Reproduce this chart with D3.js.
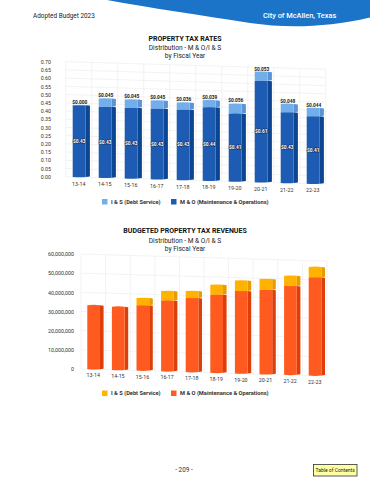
<!DOCTYPE html>
<html>
<head>
<meta charset="utf-8">
<script src="https://cdn.jsdelivr.net/npm/d3@7"></script>
<style>
  html, body { margin: 0; padding: 0; background: #fff; }
  svg { display: block; }
  text { font-family: Roboto, sans-serif; }
</style>
</head>
<body>
<div id="drawing"></div>
<script>
 var width = 370;
 var height = 480;

 // your data
 var years = ["13-14", "14-15", "15-16", "16-17", "17-18", "18-19", "19-20", "20-21", "21-22", "22-23"];

 var rateMO = [0.436, 0.431, 0.430, 0.430, 0.428, 0.447, 0.414, 0.617, 0.430, 0.410];
 var rateIS = [0.002, 0.051, 0.050, 0.048, 0.043, 0.043, 0.059, 0.055, 0.051, 0.050];
 var rateMOLabels = ["$0.43", "$0.43", "$0.43", "$0.43", "$0.43", "$0.44", "$0.41", "$0.61", "$0.43", "$0.41"];
 var rateISLabels = ["$0.000", "$0.045", "$0.045", "$0.045", "$0.036", "$0.039", "$0.056", "$0.053", "$0.048", "$0.044"];
 var rateTicks = [0, 0.05, 0.10, 0.15, 0.20, 0.25, 0.30, 0.35, 0.40, 0.45, 0.50, 0.55, 0.60, 0.65, 0.70];

 var revMO = [33400000, 33000000, 34100000, 37000000, 38600000, 40800000, 43000000, 44000000, 46300000, 51300000];
 var revIS = [0, 0, 3800000, 4900000, 3700000, 5100000, 5500000, 5600000, 5400000, 5400000];
 var revTicks = [0, 10000000, 20000000, 30000000, 40000000, 50000000, 60000000];

 var legendIS = "I & S (Debt Service)";
 var legendMO = "M & O (Maintenance & Operations)";

 var drawing = d3.select("#drawing").append("svg")
   .attr("width", width)
   .attr("height", height)
   .style("background", "#fff");

 // header swoosh
 drawing.append("path")
   .attr("d", "M107,0 C150,8 200,15 250,23 C285,28 325,28 370,17.5 L370,0 Z")
   .style("fill", "#1b74c8");

 function addText(x, y, str, size, weight, color, anchor) {
   return drawing.append("text")
     .attr("x", x)
     .attr("y", y)
     .attr("text-anchor", anchor || "middle")
     .style("font-size", size + "px")
     .style("font-weight", weight)
     .style("fill", color)
     .text(str);
 }

 addText(33, 17.5, "Adopted Budget 2023", 6.4, 400, "#222", "start");
 addText(263, 17.5, "City of McAllen, Texas", 7.4, 500, "#fff", "start");

 function makeChart(c) {
   var g = drawing.append("g");
   var skew = 7.5 / 260; // the whole plot leans down to the right

   var xScale = d3.scaleBand().domain(years).range([c.left, c.right]);
   var yScale = d3.scaleLinear().domain([0, c.max]).range([c.bottom, c.top]);
   var lean = (x) => (x - c.left) * skew;

   // grid
   var plotRight = c.right;
   g.selectAll(".hGrid")
     .data(c.ticks)
     .enter()
     .append("line")
     .attr("x1", c.left)
     .attr("x2", plotRight)
     .attr("y1", (d) => yScale(d))
     .attr("y2", (d) => yScale(d) + lean(plotRight))
     .style("stroke", "#eeeeee")
     .style("stroke-width", 0.7);

   var edges = years.map((d) => xScale(d)).concat([c.right]);
   g.selectAll(".vGrid")
     .data(edges)
     .enter()
     .append("line")
     .attr("x1", (d) => d)
     .attr("x2", (d) => d)
     .attr("y1", (d) => yScale(c.max) + lean(d))
     .attr("y2", (d) => yScale(0) + lean(d))
     .style("stroke", "#eeeeee")
     .style("stroke-width", 0.7);

   // y axis
   var yAxis = g.append("g")
     .attr("transform", `translate(${c.axisX}, 0)`)
     .call(d3.axisLeft(yScale).tickValues(c.ticks).tickSize(0).tickPadding(0).tickFormat(c.format));
   yAxis.select(".domain").remove();
   yAxis.selectAll("text")
     .style("font-family", "Roboto, sans-serif")
     .style("font-size", "5.3px")
     .style("fill", "#333");

   // x axis, every tick follows the lean
   var xAxis = g.append("g")
     .call(d3.axisBottom(xScale).tickSize(0).tickPadding(0));
   xAxis.select(".domain").remove();
   xAxis.selectAll(".tick")
     .attr("transform", (d) => {
       var cx = xScale(d) + xScale.bandwidth() / 2;
       return `translate(${cx}, ${c.bottom + lean(cx) + c.labelGap})`;
     });
   xAxis.selectAll("text")
     .attr("y", 0)
     .attr("dy", 0)
     .style("font-family", "Roboto, sans-serif")
     .style("font-size", "5.3px")
     .style("fill", "#333");

   // bars
   function drawSegment(i, from, to, front, side) {
     var x0 = xScale(years[i]) + c.barOffset;
     var x1 = x0 + c.barWidth;
     var x2 = x1 + c.barSide;
     var base = lean(x0);
     var yB = yScale(from) + base;
     var yT = yScale(to) + base;
     if (to <= from) return;
     g.append("path")
       .attr("d", `M${x1},${yT} L${x2},${yT + 0.5} L${x2},${yB - 0.5} L${x1},${yB} Z`)
       .style("fill", side);
     g.append("path")
       .attr("d", `M${x0},${yT} Q${(x0 + x1) / 2},${yT - 0.6} ${x1},${yT} L${x1},${yB} Q${(x0 + x1) / 2},${yB + (from === 0 ? 0.8 : 0.3)} ${x0},${yB} Z`)
       .style("fill", front);
   }

   years.forEach((d, i) => {
     drawSegment(i, 0, c.lower[i], c.colors.lower, c.colors.lowerSide);
     drawSegment(i, c.lower[i], c.lower[i] + c.upper[i], c.colors.upper, c.colors.upperSide);
   });

   // value labels
   if (c.upperLabels) {
     years.forEach((d, i) => {
       var x0 = xScale(d) + c.barOffset;
       var cx = x0 + (c.barWidth + c.barSide) / 2 - 1.5;
       var yTop = yScale(c.lower[i] + c.upper[i]) + lean(x0);
       g.append("text")
         .attr("x", cx)
         .attr("y", yTop - 1.2)
         .attr("text-anchor", "middle")
         .style("font-size", "4.8px")
         .style("font-weight", 700)
         .style("fill", "#222")
         .text(c.upperLabels[i]);
       g.append("text")
         .attr("x", x0 + c.barWidth / 2)
         .attr("y", yScale(c.lower[i] / 2) + lean(x0) + 1.7)
         .attr("text-anchor", "middle")
         .style("font-size", "4.8px")
         .style("font-weight", 700)
         .style("fill", "#fff")
         .style("paint-order", "stroke")
         .style("stroke", "#0b2a5c")
         .style("stroke-width", 1)
         .text(c.lowerLabels[i]);
     });
   }

   // titles
   addText(185, c.titleY, c.title, 7, 700, "#111");
   addText(185, c.titleY + 9.5, "Distribution - M & O/I & S", 6.6, 400, "#222");
   addText(185, c.titleY + 17.5, "by Fiscal Year", 6.6, 400, "#222");

   // legend
   var ly = c.legendY;
   drawing.append("rect").attr("x", 102).attr("y", ly - 4.5).attr("width", 5.5).attr("height", 5.5).style("fill", c.colors.upper);
   addText(111, ly, legendIS, 5.7, 700, "#333", "start");
   drawing.append("rect").attr("x", 171).attr("y", ly - 4.5).attr("width", 5.5).attr("height", 5.5).style("fill", c.colors.lower);
   addText(180, ly, legendMO, 5.7, 700, "#333", "start");
 }

 makeChart({
   title: "PROPERTY TAX RATES",
   titleY: 40.5,
   max: 0.70,
   ticks: rateTicks,
   format: d3.format(".2f"),
   lower: rateMO,
   upper: rateIS,
   lowerLabels: rateMOLabels,
   upperLabels: rateISLabels,
   left: 65.7, right: 325.7, top: 61.7, bottom: 176.7,
   axisX: 51, labelGap: 8.5,
   barOffset: 7, barWidth: 13, barSide: 4.2,
   legendY: 203.5,
   colors: { lower: "#1e5cb3", lowerSide: "#0c4591", upper: "#74aeea", upperSide: "#5a94d6" }
 });

 makeChart({
   title: "BUDGETED PROPERTY TAX REVENUES",
   titleY: 233,
   max: 60000000,
   ticks: revTicks,
   format: d3.format(","),
   lower: revMO,
   upper: revIS,
   left: 81, right: 327, top: 254, bottom: 369,
   axisX: 74, labelGap: 8,
   barOffset: 6.3, barWidth: 12.7, barSide: 3.6,
   legendY: 395,
   colors: { lower: "#ff5a20", lowerSide: "#de3f0a", upper: "#ffb300", upperSide: "#e89c00" }
 });

 // footer
 addText(184, 472, "- 209 -", 6.4, 400, "#333");
 drawing.append("rect")
   .attr("x", 313.5).attr("y", 464.5).attr("width", 43.5).attr("height", 11.5)
   .style("fill", "#ffffa6")
   .style("stroke", "#333")
   .style("stroke-width", 0.8);
 addText(335.2, 472.2, "Table of Contents", 5, 400, "#222");
</script>
</body>
</html>
